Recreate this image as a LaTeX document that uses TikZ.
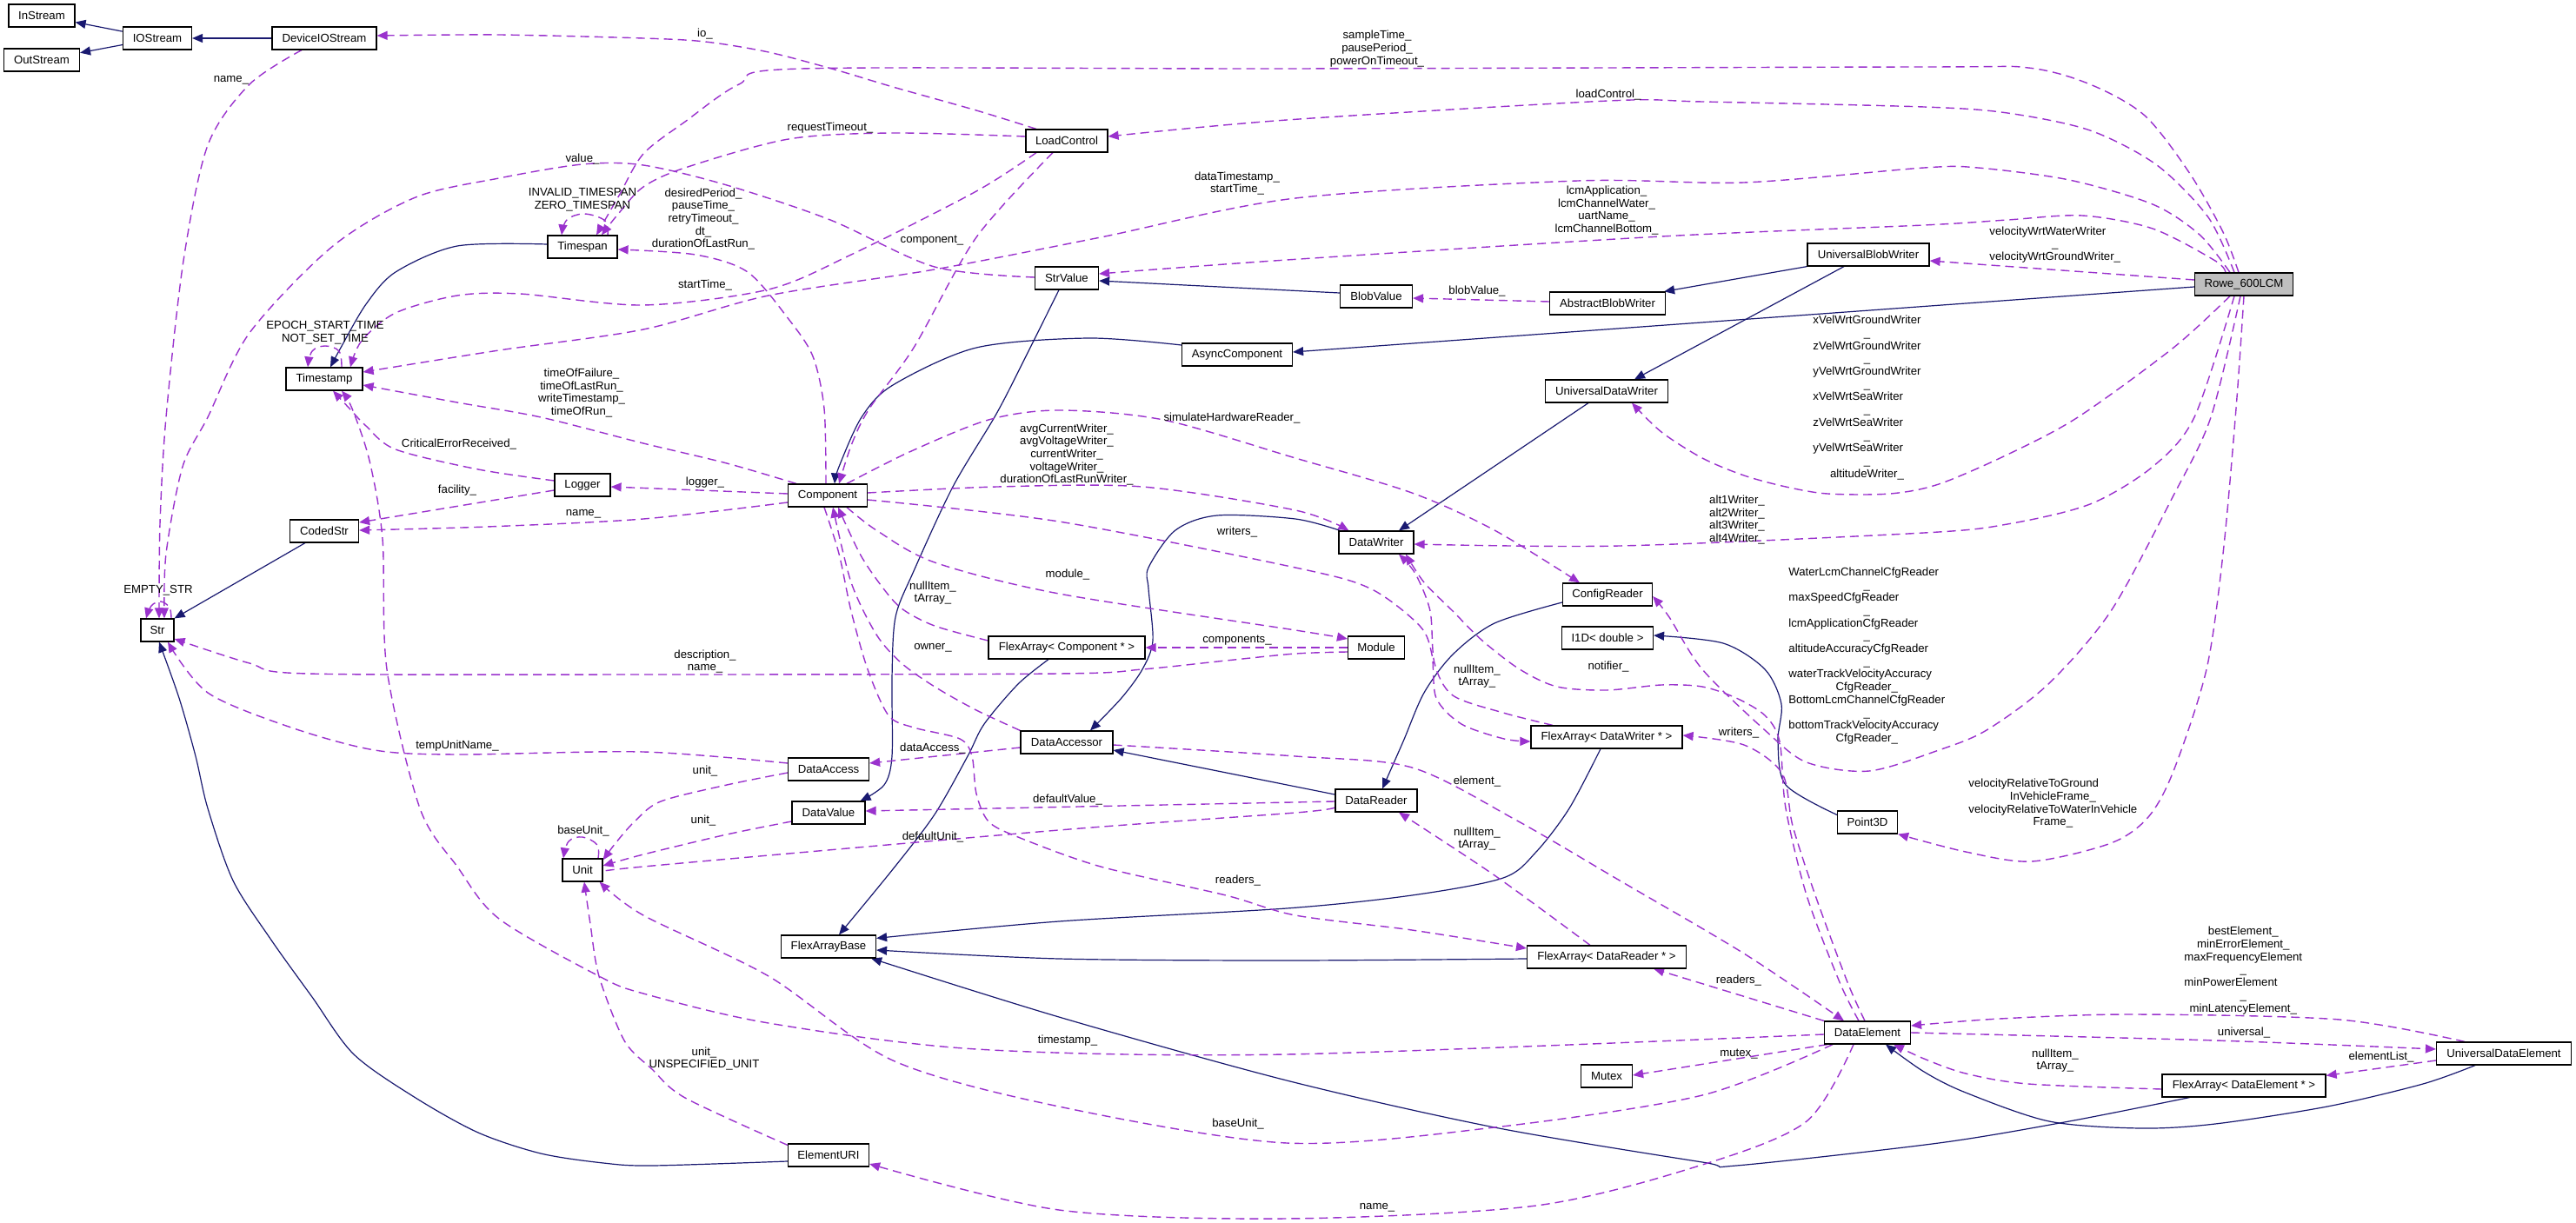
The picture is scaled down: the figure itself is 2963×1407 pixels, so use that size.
\documentclass[tikz,border=0pt]{standalone}
\usepackage{fontspec}
\setmainfont{Liberation Sans}
\usetikzlibrary{arrows.meta}
\definecolor{navy}{HTML}{191970}
\definecolor{purp}{HTML}{9A32CD}
\definecolor{rowegray}{HTML}{BFBFBF}
\newcommand\lblfont{\fontsize{6.6}{7.35}\selectfont}
\newcommand\cmc[1]{\multicolumn{1}{@{}c@{}}{#1}}
\pgfdeclarelayer{bg}
\pgfdeclarelayer{edges}
\pgfsetlayers{bg,edges,main}
\tikzset{
  box/.style={draw=black, line width=0.6pt, fill=white, minimum height=13pt, inner sep=0pt, font=\lblfont},
  lbl/.style={inner sep=0pt, font=\lblfont, align=center},
  lbltab/.style={inner sep=0pt, font=\lblfont},
  inh/.style={navy, line width=0.6pt, -{Triangle[length=6pt,width=5pt]}},
  use/.style={purp, line width=0.7pt, dash pattern=on 5pt off 3pt, -{Triangle[length=6pt,width=5pt]}},
}
\begin{document}
\begin{tikzpicture}[x=0.5pt, y=-0.5pt]
\useasboundingbox (0,0) rectangle (2963,1407);
\begin{pgfonlayer}{bg}
\fill[white] (0,0) rectangle (2963,1407);
\end{pgfonlayer}
% ---------------- nodes ----------------
\node[box, minimum width=38pt] (instream) at (48,18) {InStream};
\node[box, minimum width=43.5pt] (outstream) at (48,69) {OutStream};
\node[box, minimum width=39.5pt] (iostream) at (181,44) {IOStream};
\node[box, minimum width=60pt] (deviceio) at (373,44) {DeviceIOStream};
\node[box, minimum width=47pt] (loadcontrol) at (1227,162) {LoadControl};
\node[box, minimum width=40pt] (timespan) at (670,284) {Timespan};
\node[box, minimum width=36.5pt] (strvalue) at (1227,320) {StrValue};
\node[box, minimum width=44pt] (timestamp) at (373,436) {Timestamp};
\node[box, minimum width=70pt] (ubw) at (2149,293) {UniversalBlobWriter};
\node[box, minimum width=56.5pt, fill=rowegray] (rowe) at (2581,327) {Rowe\_600LCM};
\node[box, minimum width=41.5pt] (blobvalue) at (1583,341) {BlobValue};
\node[box, minimum width=66.5pt] (abw) at (1849,349) {AbstractBlobWriter};
\node[box, minimum width=63.5pt] (async) at (1423,408) {AsyncComponent};
\node[box, minimum width=70.5pt] (udw) at (1848,450) {UniversalDataWriter};
\node[box, minimum width=45.5pt] (component) at (952,570) {Component};
\node[box, minimum width=32pt] (logger) at (670,558) {Logger};
\node[box, minimum width=39.5pt] (codedstr) at (373,611) {CodedStr};
\node[box, minimum width=19pt] (str) at (181,725) {Str};
\node[box, minimum width=43pt] (datawriter) at (1583,624) {DataWriter};
\node[box, minimum width=51.5pt] (configreader) at (1849,684) {ConfigReader};
\node[box, minimum width=52.5pt] (i1d) at (1849,734) {I1D< double >};
\node[box, minimum width=32.5pt] (module) at (1583,745) {Module};
\node[box, minimum width=90pt] (facomp) at (1227,745) {FlexArray< Component * >};
\node[box, minimum width=87pt] (fadw) at (1848,848) {FlexArray< DataWriter * >};
\node[box, minimum width=53pt] (dataaccessor) at (1227,854) {DataAccessor};
\node[box, minimum width=46.5pt] (dataaccess) at (953,885) {DataAccess};
\node[box, minimum width=42pt] (datavalue) at (953,935) {DataValue};
\node[box, minimum width=47pt] (datareader) at (1583,921) {DataReader};
\node[box, minimum width=34.5pt] (point3d) at (2148,946) {Point3D};
\node[box, minimum width=23pt] (unit) at (670,1001) {Unit};
\node[box, minimum width=54.5pt] (flexarraybase) at (953,1089) {FlexArrayBase};
\node[box, minimum width=91.5pt] (fadr) at (1848,1101) {FlexArray< DataReader * >};
\node[box, minimum width=49.5pt] (dataelement) at (2148,1188) {DataElement};
\node[box, minimum width=29.5pt] (mutex) at (1848,1238) {Mutex};
\node[box, minimum width=77.5pt] (ude) at (2880,1212) {UniversalDataElement};
\node[box, minimum width=94pt] (fade) at (2581,1249) {FlexArray< DataElement * >};
\node[box, minimum width=46.5pt] (elementuri) at (953,1329) {ElementURI};
% ---------------- edges ----------------
\begin{pgfonlayer}{edges}
% inheritance
\draw[inh] (iostream) -- (instream);
\draw[inh] (iostream) -- (outstream);
\draw[inh] (deviceio) -- (iostream);
\draw[inh] plot[smooth,tension=0.5] coordinates {([yshift=1.5pt]timespan.west) (526,283) (455,313) (421,350) (392,400) ([xshift=3.5pt]timestamp.north)};
\draw[inh] plot[smooth,tension=0.5] coordinates {([xshift=-4.5pt]strvalue.south) (1175,420) (1145,478) (1096,560) (1051,657) (1030,710) (1026,780) (1026,870) (1017,903) ([xshift=-3pt]datavalue.north east)};
\draw[inh] ([yshift=2pt]blobvalue.west) -- ([yshift=-1.5pt]strvalue.east);
\draw[inh] (ubw.south west) -- ([xshift=-1pt]abw.north east);
\draw[inh] ([xshift=-14pt]ubw.south) -- ([xshift=16pt]udw.north);
\draw[inh] ([yshift=-1.5pt]rowe.west) -- ([yshift=1.5pt]async.east);
\draw[inh] plot[smooth,tension=0.5] coordinates {([yshift=5.5pt]async.west) (1252,389) (1123,400) (1027,443) (991,480) (965,537) ([xshift=4pt]component.north)};
\draw[inh] ([xshift=-10.5pt]udw.south) -- ([xshift=13pt]datawriter.north);
\draw[inh] plot[smooth,tension=0.5] coordinates {([xshift=1pt]datawriter.north west) (1490,597) (1400,593) (1352,610) (1321,653) (1321,677) (1326,737) (1314,770) (1290,803) ([xshift=13.5pt]dataaccessor.north)};
\draw[inh] ([yshift=3.5pt]datareader.west) -- ([yshift=-4.5pt]dataaccessor.east);
\draw[inh] plot[smooth,tension=0.5] coordinates {([yshift=-4.5pt]configreader.west) (1719,717) (1671,753) (1638,797) (1614,853) ([xshift=3.5pt]datareader.north)};
\draw[inh] plot[smooth,tension=0.5] coordinates {([yshift=-2.5pt]point3d.north west) (2054,903) (2045,853) (2049,810) (2030,770) (1982,740) ([yshift=1.5pt]i1d.east)};
\draw[inh] plot[smooth,tension=0.5] coordinates {([xshift=-10.5pt]facomp.south) (1171,787) (1132,833) (1113,870) (1075,937) (1027,1000) ([xshift=6pt]flexarraybase.north)};
\draw[inh] plot[smooth,tension=0.5] coordinates {([xshift=-3.5pt]fadw.south) (1805,930) (1767,980) (1729,1010) (1624,1030) (1480,1045) (1218,1060) ([yshift=-2pt]flexarraybase.north east)};
\draw[inh] plot[smooth,tension=0.5] coordinates {([yshift=-1pt]fadr.west) (1480,1105) (1218,1103) ([yshift=-2pt]flexarraybase.east)};
\draw[inh] plot[smooth,tension=0.5] coordinates {([xshift=16pt]fade.south west) (2380,1290) (2230,1315) (1997,1341) (1958,1337) (1719,1297) (1480,1243) (1218,1170) ([xshift=-3pt]flexarraybase.south east)};
\draw[inh] plot[smooth,tension=0.5] coordinates {([xshift=-16.5pt]ude.south) (2787,1247) (2677,1273) (2548,1293) (2462,1298) (2357,1290) (2261,1257) (2213,1233) ([xshift=10.5pt]dataelement.south)};
\draw[inh] plot[smooth,tension=0.5] coordinates {([yshift=-3.5pt]elementuri.west) (750,1341) (694,1338) (622,1327) (550,1303) (478,1263) (407,1213) (359,1147) (311,1080) (268,1013) (239,930) (225,870) (206,803) ([xshift=1pt]str.south)};
\draw[inh] ([xshift=-11pt]codedstr.south) -- (str.north east);
% usage
\draw[use] ([yshift=1pt]abw.west) -- ([yshift=-1pt]blobvalue.east);
\draw[use] plot[smooth,tension=0.5] coordinates {([xshift=-17.5pt]loadcontrol.north) (1123,127) (1027,100) (960,80) (884,60) (811,48) (740,44) (574,40) ([yshift=1.5pt]deviceio.east)};
\draw[use] plot[smooth,tension=0.5] coordinates {([xshift=-3pt]rowe.north) (2557,267) (2519,200) (2467,133) (2404,97) (2333,78) (2213,77) (1480,79) (922,79) (850,97) (788,140) (740,177) (712,225) ([xshift=8pt]timespan.north)};
\draw[use] plot[smooth,tension=0.5] coordinates {([yshift=2.5pt]loadcontrol.west) (1027,153) (907,160) (788,193) (740,215) (712,245) ([xshift=11pt]timespan.north)};
\draw[use] plot[smooth,tension=0.5] coordinates {([xshift=-1pt]component.north) (948,470) (935,410) (907,367) (860,313) (800,293) ([yshift=-1.5pt]timespan.east)};
\draw[use] plot[smooth,tension=0.5] coordinates {([xshift=-5.5pt]rowe.north) (2540,250) (2481,190) (2404,150) (2309,130) (2213,123) (1958,117) (1850,116) (1480,138) ([yshift=2.5pt]loadcontrol.east)};
\draw[use] plot[smooth,tension=0.5] coordinates {([xshift=-10.5pt]rowe.north) (2548,300) (2476,263) (2395,248) (2309,253) (2213,259) (1911,272) (1480,299) ([yshift=2.5pt]strvalue.east)};
\draw[use] plot[smooth,tension=0.5] coordinates {([xshift=-8pt]rowe.north) (2530,270) (2476,235) (2380,207) (2275,193) (2213,193) (2006,210) (1815,208) (1490,228) (1266,273) (1075,310) (884,340) (740,379) (574,403) ([yshift=4pt]timestamp.east)};
\draw[use] plot[smooth,tension=0.5] coordinates {([xshift=-17.5pt]loadcontrol.south) (1123,220) (979,293) (884,333) (740,351) (598,338) (526,340) (455,360) (416,392) ([xshift=15pt]timestamp.north)};
\draw[use] plot[smooth,tension=0.5] coordinates {([xshift=5pt]component.north west) (836,533) (740,510) (622,480) (526,463) ([yshift=-3.5pt]timestamp.east)};
\draw[use] plot[smooth,tension=0.6] coordinates {([xshift=10pt]timestamp.north) (390,404) (374,398) (359,404) ([xshift=-9.5pt]timestamp.north)};
\draw[use] plot[smooth,tension=0.6] coordinates {([xshift=14.5pt]timespan.north) (696,254) (672,246) (652,253) ([xshift=-12pt]timespan.north)};
\draw[use] plot[smooth,tension=0.5] coordinates {([xshift=11pt]component.north) (1046,520) (1137,483) (1218,472) (1338,483) (1490,527) (1624,567) (1719,610) ([xshift=-16pt]configreader.north)};
\draw[use] plot[smooth,tension=0.5] coordinates {([yshift=1.5pt]component.east) (1147,560) (1314,560) (1490,587) ([xshift=6pt]datawriter.north west)};
\draw[use] plot[smooth,tension=0.5] coordinates {([yshift=-2.5pt]component.east) (1218,600) (1490,653) (1576,677) (1633,720) (1647,753) (1652,803) (1681,833) (1730,850) ([yshift=-2.5pt]fadw.west)};
\draw[use] plot[smooth,tension=0.5] coordinates {([xshift=-5pt]dataelement.north) (2116,1130) (2078,1030) (2054,930) (2047,853) (2030,823) (1997,803) (1958,790) (1911,788) (1848,794) (1791,790) (1748,770) (1705,737) (1671,703) (1638,670) ([xshift=17pt]datawriter.south)};
\draw[use] plot[smooth,tension=0.5] coordinates {([xshift=-1.5pt]dataelement.north) (2125,1130) (2088,1030) (2062,950) (2050,890) (2006,857) ([yshift=1pt]fadw.east)};
\draw[use] plot[smooth,tension=0.5] coordinates {([xshift=-31pt]fadw.north) (1729,820) (1671,800) (1650,763) (1645,703) (1628,660) ([xshift=13pt]datawriter.south)};
\draw[use] ([yshift=1pt]component.west) -- ([yshift=-1pt]logger.east);
\draw[use] plot[smooth,tension=0.5] coordinates {([yshift=-4pt]component.west) (740,597) (560,606) ([yshift=0.5pt]codedstr.east)};
\draw[use] ([yshift=-3pt]logger.west) -- ([yshift=5pt]codedstr.east);
\draw[use] plot[smooth,tension=0.5] coordinates {([yshift=2.5pt]logger.west) (550,540) (455,517) (421,490) (402,470) ([xshift=5pt]timestamp.south)};
\draw[use] plot[smooth,tension=0.5] coordinates {([yshift=0.5pt]strvalue.west) (1075,307) (955,253) (836,213) (740,190) (670,189) (574,205) (478,227) (383,283) (287,383) (239,480) (210,537) (191,637) ([xshift=4pt]str.north)};
\draw[use] plot[smooth,tension=0.5] coordinates {([xshift=-13pt]deviceio.south) (287,97) (239,167) (211,300) (191,480) (184,603) ([xshift=1pt]str.north)};
\draw[use] plot[smooth,tension=0.6] coordinates {([xshift=8pt]str.north) (195,699) (185,692) (174,697) ([xshift=-6.5pt]str.north)};
\draw[use] plot[smooth,tension=0.5] coordinates {([yshift=-2.5pt]module.west) (1490,752) (1410,760) (1314,770) (1218,775) (750,776) (354,775) (287,763) ([yshift=-5pt]str.east)};
\draw[use] plot[smooth,tension=0.5] coordinates {([yshift=3.5pt]dataaccess.west) (740,865) (526,868) (431,863) (335,837) (239,797) ([xshift=6pt]str.south)};
\draw[use] plot[smooth,tension=0.5] coordinates {([xshift=11pt]component.south) (1008,610) (1075,647) (1218,683) (1490,725) ([yshift=5pt]module.west)};
\draw[use] (module.west) -- (facomp.east);
\draw[use] plot[smooth,tension=0.5] coordinates {([yshift=4pt]facomp.west) (1075,720) (1037,700) (1013,673) (989,637) ([xshift=6pt]component.south)};
\draw[use] plot[smooth,tension=0.5] coordinates {(dataaccessor.north west) (1123,817) (1075,790) (1037,763) (1008,730) (979,670) ([xshift=3pt]component.south)};
\draw[use] ([yshift=-3pt]dataaccessor.west) -- ([yshift=3.5pt]dataaccess.east);
\draw[use] plot[smooth,tension=0.5] coordinates {([xshift=-2pt]component.south) (965,637) (979,703) (998,770) (1022,823) (1051,837) (1104,850) (1118,870) (1123,913) (1137,945) (1171,963) (1266,997) (1410,1030) (1490,1053) (1624,1070) ([yshift=5pt]fadr.west)};
\draw[use] plot[smooth,tension=0.5] coordinates {([yshift=-1.5pt]dataaccessor.east) (1490,870) (1624,883) (1743,943) (1863,1013) (2006,1097) ([xshift=-13.5pt]dataelement.north)};
\draw[use] ([yshift=-0.5pt]datareader.west) -- ([yshift=1pt]datavalue.east);
\draw[use] plot[smooth,tension=0.5] coordinates {([yshift=-4pt]datareader.west) (1490,935) (1218,955) (740,997) ([yshift=-1.5pt]unit.east)};
\draw[use] plot[smooth,tension=0.5] coordinates {([yshift=-2pt]dataaccess.west) (836,903) (760,922) (730,945) (708,970) ([yshift=-1pt]unit.north east)};
\draw[use] plot[smooth,tension=0.5] coordinates {([yshift=-5pt]datavalue.west) (836,960) (740,983) ([yshift=2.5pt]unit.east)};
\draw[use] plot[smooth,tension=0.6] coordinates {([xshift=9pt]unit.north) (687,972) (670,963) (654,968) ([xshift=-11pt]unit.north)};
\draw[use] plot[smooth,tension=0.5] coordinates {([xshift=-20pt]dataelement.south) (1958,1260) (1719,1297) (1480,1315) (1218,1273) (1027,1220) (884,1123) (740,1053) ([xshift=-2pt]unit.south east)};
\draw[use] plot[smooth,tension=0.5] coordinates {([yshift=-1pt]elementuri.north west) (788,1263) (750,1230) (718,1197) (689,1123) (679,1063) ([xshift=1pt]unit.south)};
\draw[use] plot[smooth,tension=0.5] coordinates {([yshift=-1pt]dataelement.west) (1480,1213) (1123,1207) (884,1177) (740,1143) (689,1123) (574,1057) (526,997) (483,930) (445,770) (440,620) (425,530) (405,470) ([xshift=10pt]timestamp.south)};
\draw[use] plot[smooth,tension=0.5] coordinates {([xshift=-8pt]dataelement.south) (2078,1290) (1958,1340) (1767,1387) (1480,1402) (1218,1392) ([yshift=-5pt]elementuri.east)};
\draw[use] ([xshift=2pt]dataelement.south west) -- ([yshift=0.5pt]mutex.east);
\draw[use] (dataelement.north west) -- ([xshift=-19pt]fadr.south east);
\draw[use] plot[smooth,tension=0.5] coordinates {([xshift=-9.5pt]fadr.north) (1719,1007) ([xshift=13pt]datareader.south)};
\draw[use] plot[smooth,tension=0.5] coordinates {(dataelement.east) (2548,1197) ([yshift=2.5pt]ude.west)};
\draw[use] plot[smooth,tension=0.5] coordinates {([xshift=-22.5pt]ude.north) (2691,1173) (2452,1167) (2300,1172) ([yshift=4pt]dataelement.east)};
\draw[use] ([yshift=-4pt]ude.west) -- ([yshift=-1pt]fade.north east);
\draw[use] plot[smooth,tension=0.5] coordinates {([yshift=-2pt]fade.west) (2333,1247) (2261,1235) (2213,1218) ([xshift=15pt]dataelement.south)};
\draw[use] ([yshift=2.5pt]rowe.west) -- ([yshift=-3.5pt]ubw.east);
\draw[use] plot[smooth,tension=0.5] coordinates {([xshift=-8pt]rowe.south) (2500,400) (2390,480) (2309,523) (2230,557) (2174,568) (2102,568) (2054,560) (2006,547) (1958,527) (1911,497) ([xshift=14.5pt]udw.south)};
\draw[use] plot[smooth,tension=0.5] coordinates {([xshift=-5.5pt]rowe.south) (2524,480) (2476,537) (2404,580) (2309,603) (2213,613) (1863,628) ([yshift=-1pt]datawriter.east)};
\draw[use] plot[smooth,tension=0.5] coordinates {([xshift=-2pt]rowe.south) (2543,480) (2500,570) (2428,703) (2356,787) (2285,840) (2230,863) (2150,887) (2078,877) (2030,840) (1958,770) (1920,710) ([yshift=-1pt]configreader.east)};
\draw[use] plot[smooth,tension=0.5] coordinates {(rowe.south) (2572,470) (2557,637) (2538,770) (2500,887) (2471,940) (2428,970) (2337,991) (2261,980) (point3d.south east)};
\draw[use] plot[smooth,tension=0.5] coordinates {([xshift=-8pt]loadcontrol.south) (1123,273) (1051,400) (1000,470) (980,510) ([xshift=6.5pt]component.north)};
\end{pgfonlayer}
% ---------------- labels ----------------
\node[lbl] (l_io) at (811,39) {io\_};
\node[lbl] (l_name1) at (266,92) {name\_};
\node[lbl] (l_value) at (670,183) {value\_};
\node[lbl] (l_tspan) at (670,230) {INVALID\_TIMESPAN\\ZERO\_TIMESPAN};
\node[lbl] (l_tstamp) at (374,383) {EPOCH\_START\_TIME\\NOT\_SET\_TIME};
\node[lbl] (l_timeof) at (669,452) {timeOfFailure\_\\timeOfLastRun\_\\writeTimestamp\_\\timeOfRun\_};
\node[lbl] (l_sample) at (1584,56) {sampleTime\_\\pausePeriod\_\\powerOnTimeout\_};
\node[lbl] (l_loadc) at (1850,109) {loadControl\_};
\node[lbl] (l_request) at (955,147) {requestTimeout\_};
\node[lbl] (l_desired) at (809,252) {desiredPeriod\_\\pauseTime\_\\retryTimeout\_\\dt\_\\durationOfLastRun\_};
\node[lbl] (l_component) at (1072,277) {component\_};
\node[lbl] (l_datats) at (1423,211) {dataTimestamp\_\\startTime\_};
\node[lbl] (l_lcm) at (1848,242) {lcmApplication\_\\lcmChannelWater\_\\uartName\_\\lcmChannelBottom\_};
\node[lbl] (l_start) at (811,328) {startTime\_};
\node[lbl] (l_blob) at (1699,335) {blobValue\_};
\node[lbltab, anchor=west] (l_velwrt) at (2288,282) {\begin{tabular}{@{}l@{}}velocityWrtWaterWriter\\\cmc{\_}\\velocityWrtGroundWriter\_\end{tabular}};
\node[lbltab, anchor=west] (l_xvel) at (2085,458) {\begin{tabular}{@{}l@{}}xVelWrtGroundWriter\\\cmc{\_}\\zVelWrtGroundWriter\\\cmc{\_}\\yVelWrtGroundWriter\\\cmc{\_}\\xVelWrtSeaWriter\\\cmc{\_}\\zVelWrtSeaWriter\\\cmc{\_}\\yVelWrtSeaWriter\\\cmc{\_}\\\cmc{altitudeWriter\_}\end{tabular}};
\node[lbl] (l_sim) at (1417,481) {simulateHardwareReader\_};
\node[lbl] (l_avg) at (1227,523) {avgCurrentWriter\_\\avgVoltageWriter\_\\currentWriter\_\\voltageWriter\_\\durationOfLastRunWriter\_};
\node[lbl] (l_logger) at (811,555) {logger\_};
\node[lbl] (l_crit) at (528,511) {CriticalErrorReceived\_};
\node[lbl] (l_facility) at (526,564) {facility\_};
\node[lbl] (l_name2) at (671,591) {name\_};
\node[lbl] (l_alt) at (1998,598) {alt1Writer\_\\alt2Writer\_\\alt3Writer\_\\alt4Writer\_};
\node[lbl] (l_writers1) at (1423,612) {writers\_};
\node[lbl] (l_module) at (1228,661) {module\_};
\node[lbl] (l_nullc) at (1073,682) {nullItem\_\\tArray\_};
\node[lbl] (l_empty) at (182,679) {EMPTY\_STR};
\node[lbltab, anchor=west] (l_cfg) at (2057,755) {\begin{tabular}{@{}l@{}}WaterLcmChannelCfgReader\\\cmc{\_}\\maxSpeedCfgReader\\\cmc{\_}\\lcmApplicationCfgReader\\\cmc{\_}\\altitudeAccuracyCfgReader\\\cmc{\_}\\waterTrackVelocityAccuracy\\\cmc{CfgReader\_}\\BottomLcmChannelCfgReader\\\cmc{\_}\\bottomTrackVelocityAccuracy\\\cmc{CfgReader\_}\end{tabular}};
\node[lbl] (l_components) at (1423,737) {components\_};
\node[lbl] (l_owner) at (1073,745) {owner\_};
\node[lbl] (l_desc) at (811,761) {description\_\\name\_};
\node[lbl] (l_notifier) at (1850,767) {notifier\_};
\node[lbl] (l_nulldw) at (1699,778) {nullItem\_\\tArray\_};
\node[lbl] (l_writers2) at (2000,843) {writers\_};
\node[lbl] (l_temp) at (526,858) {tempUnitName\_};
\node[lbl] (l_dataacc) at (1073,861) {dataAccess\_};
\node[lbl] (l_unit1) at (811,887) {unit\_};
\node[lbl] (l_element) at (1699,899) {element\_};
\node[lbltab, anchor=west] (l_velrel) at (2264,925) {\begin{tabular}{@{}l@{}}velocityRelativeToGround\\\cmc{InVehicleFrame\_}\\velocityRelativeToWaterInVehicle\\\cmc{Frame\_}\end{tabular}};
\node[lbl] (l_defval) at (1228,920) {defaultValue\_};
\node[lbl] (l_unit2) at (809,944) {unit\_};
\node[lbl] (l_baseunit1) at (671,956) {baseUnit\_};
\node[lbl] (l_nulldr) at (1699,965) {nullItem\_\\tArray\_};
\node[lbl] (l_defunit) at (1073,963) {defaultUnit\_};
\node[lbl] (l_readers1) at (1424,1013) {readers\_};
\node[lbltab, anchor=west] (l_best) at (2512,1117) {\begin{tabular}{@{}l@{}}\cmc{bestElement\_}\\\cmc{minErrorElement\_}\\maxFrequencyElement\\\cmc{\_}\\minPowerElement\\\cmc{\_}\\\cmc{minLatencyElement\_}\end{tabular}};
\node[lbl] (l_readers2) at (2000,1128) {readers\_};
\node[lbl] (l_universal) at (2581,1188) {universal\_};
\node[lbl] (l_timestamp) at (1228,1197) {timestamp\_};
\node[lbl] (l_mutex) at (2000,1213) {mutex\_};
\node[lbl] (l_elist) at (2739,1216) {elementList\_};
\node[lbl] (l_nullde) at (2364,1220) {nullItem\_\\tArray\_};
\node[lbl] (l_unspec) at (810,1218) {unit\_\\UNSPECIFIED\_UNIT};
\node[lbl] (l_baseunit2) at (1424,1293) {baseUnit\_};
\node[lbl] (l_name3) at (1584,1389) {name\_};
\end{tikzpicture}
\end{document}
